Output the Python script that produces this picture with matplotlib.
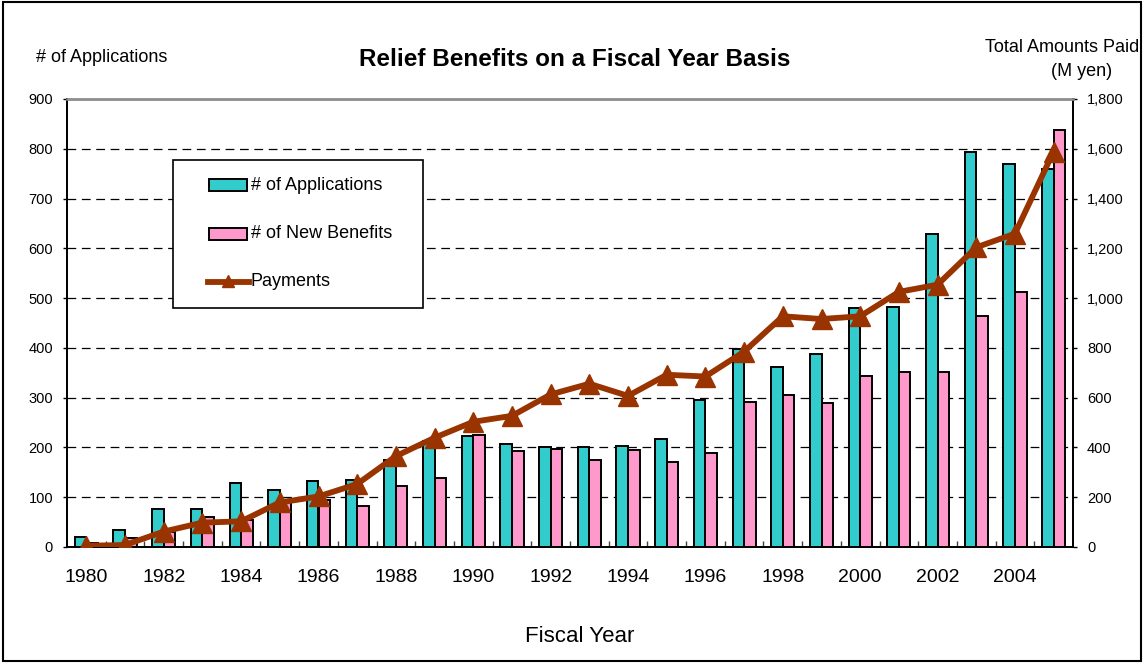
import matplotlib
matplotlib.use("Agg")
import matplotlib.pyplot as plt
import numpy as np
from matplotlib.ticker import FuncFormatter, FixedLocator
from matplotlib.lines import Line2D
from matplotlib.patches import Rectangle

plt.rcParams['font.family'] = ['Liberation Sans', 'DejaVu Sans']

years = list(range(1980, 2006))
applications = [20, 35, 77, 77, 129, 114, 132, 135, 175, 212, 223, 207, 201, 200, 203,
                216, 295, 397, 362, 388, 480, 483, 629, 794, 769, 760]
new_benefits = [8, 19, 30, 60, 55, 95, 95, 83, 123, 139, 225, 193, 197, 175, 194,
                171, 189, 291, 305, 289, 343, 351, 351, 465, 513, 837]
payments = [5, 8, 62, 98, 103, 179, 203, 253, 365, 439, 503, 527, 613, 656, 607,
            692, 685, 785, 927, 916, 927, 1025, 1054, 1204, 1259, 1589]
legend_labels = ['# of Applications', '# of New Benefits', 'Payments']

CYAN = '#33CCCC'
PINK = '#FF99CC'
BROWN = '#993300'

W, H = 1145, 664
fig = plt.figure(figsize=(W / 100, H / 100), dpi=100)
L, R, T, B = 67, 1073, 99, 547
ax = fig.add_axes([L / W, 1 - B / H, (R - L) / W, (B - T) / H])


def fx(px):
    return px / W


def fy(py):
    return 1 - py / H


x = np.arange(len(years))
bw = 0.30
ax.bar(x - bw, applications, width=bw, align='edge', color=CYAN, edgecolor='black',
       linewidth=1.4, zorder=3)
ax.bar(x, new_benefits, width=bw, align='edge', color=PINK, edgecolor='black',
       linewidth=1.4, zorder=3)

ax.set_xlim(-0.5, len(years) - 0.5)
ax.set_ylim(0, 900)
ax.set_yticks(range(0, 901, 100))
for v in range(100, 900, 100):
    ax.axhline(v, color='black', linewidth=0.9, linestyle=(0, (7, 4.5)), zorder=1)

ax.xaxis.set_major_locator(FixedLocator(x[::2]))
ax.set_xticklabels([str(y) for y in years[::2]])
ax.xaxis.set_minor_locator(FixedLocator(np.arange(-0.5, len(years), 1.0)[1:-1]))
ax.tick_params(axis='x', which='major', length=0, pad=16, labelsize=14)
ax.tick_params(axis='x', which='minor', direction='in', length=4, width=1, color='#404040')
ax.tick_params(axis='y', which='major', direction='out', length=3, width=1, pad=7, labelsize=10.5)

for a in [ax]:
    for s in ['left', 'bottom', 'right']:
        a.spines[s].set_color('black')
        a.spines[s].set_linewidth(1.3)
    a.spines['top'].set_color('#909090')
    a.spines['top'].set_linewidth(1.8)

ax2 = ax.twinx()
ax2.plot(x, payments, color=BROWN, linewidth=4.2, marker='^', markersize=15,
         markeredgecolor=BROWN, markerfacecolor=BROWN, zorder=5)
ax2.set_ylim(0, 1800)
ax2.set_yticks(range(0, 1801, 200))
ax2.yaxis.set_major_formatter(FuncFormatter(lambda v, p: f"{int(v):,}"))
ax2.tick_params(axis='y', direction='out', length=3, width=1, pad=7, labelsize=10.5)
for s in ['left', 'bottom', 'right']:
    ax2.spines[s].set_color('black')
    ax2.spines[s].set_linewidth(1.3)
ax2.spines['top'].set_color('#909090')
ax2.spines['top'].set_linewidth(1.8)

# manual legend (figure pixel coordinates)
tf = fig.transFigure
fig.patches.append(Rectangle((fx(173), fy(308)), fx(423) - fx(173), fy(160) - fy(308),
                             transform=tf, facecolor='white', edgecolor='black',
                             linewidth=1.2, zorder=10))
fig.patches.append(Rectangle((fx(209), fy(191)), fx(247) - fx(209), fy(179) - fy(191),
                             transform=tf, facecolor=CYAN, edgecolor='black',
                             linewidth=1.4, zorder=11))
fig.patches.append(Rectangle((fx(209), fy(240)), fx(247) - fx(209), fy(228) - fy(240),
                             transform=tf, facecolor=PINK, edgecolor='black',
                             linewidth=1.4, zorder=11))
fig.lines.append(Line2D([fx(208), fx(249)], [fy(282), fy(282)], transform=tf,
                        color=BROWN, linewidth=4.2, zorder=11))
fig.lines.append(Line2D([fx(228)], [fy(281)], transform=tf, color=BROWN, marker='^',
                        markersize=9, linestyle='none', zorder=12))
for ty, lab in zip([185, 234, 282], legend_labels):
    fig.text(fx(251), fy(ty), lab, ha='left', va='center', fontsize=13, zorder=12)

fig.text(fx(575), fy(60), 'Relief Benefits on a Fiscal Year Basis', ha='center',
         va='center', fontsize=17.5, fontweight='bold')
fig.text(fx(36), fy(57), '# of Applications', ha='left', va='center', fontsize=13)
fig.text(fx(1139), fy(47), 'Total Amounts Paid', ha='right', va='center', fontsize=13)
fig.text(fx(1082), fy(72), '(M yen)', ha='center', va='center', fontsize=13)
fig.text(fx(580), fy(636), 'Fiscal Year', ha='center', va='center', fontsize=16)

fig.patches.append(Rectangle((fx(3), fy(661)), fx(1141) - fx(3), fy(2) - fy(661),
                             transform=tf, fill=False, edgecolor='black', linewidth=1.5))

fig.savefig('out.png', dpi=100)
